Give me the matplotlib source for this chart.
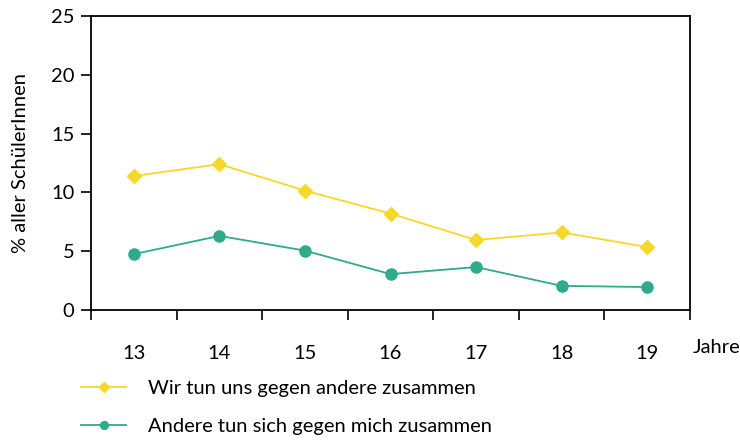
import numpy as np
import matplotlib.pyplot as plt

plt.rcParams['font.family'] = ['Lato', 'DejaVu Sans']

years = ['13', '14', '15', '16', '17', '18', '19']
wir_tun = [11.4, 12.4, 10.15, 8.2, 5.95, 6.6, 5.35]
andere_tun = [4.75, 6.3, 5.05, 3.05, 3.65, 2.05, 1.95]
labels = ['Wir tun uns gegen andere zusammen', 'Andere tun sich gegen mich zusammen']

yellow = '#F5D82A'
green = '#2FAA8B'

fig = plt.figure(figsize=(7.4, 4.4), dpi=100)
ax = fig.add_axes([0.123, 0.2955, 0.8095, 0.668])

x = np.arange(len(years))
ax.plot(x, wir_tun, color=yellow, lw=1.3, marker='D', ms=7, label=labels[0])
ax.plot(x, andere_tun, color=green, lw=1.3, marker='o', ms=8, label=labels[1])

ax.set_xlim(-0.5, len(years) - 0.5)
ax.set_ylim(0, 25)
ax.set_yticks([0, 5, 10, 15, 20, 25])
ax.set_xticks(x)
ax.set_xticklabels(years)
ax.set_xticks(np.arange(len(years) + 1) - 0.5, minor=True)
ax.tick_params(axis='x', which='major', length=0, pad=25, labelsize=14.5)
ax.tick_params(axis='x', which='minor', length=7, width=1.2, direction='out')
ax.tick_params(axis='y', length=7, width=1.2, labelsize=14.5, pad=5)
for s in ax.spines.values():
    s.set_linewidth(1.3)
ax.set_ylabel('% aller SchülerInnen', fontsize=14.5, labelpad=16)

fig.text(693 / 740, 1 - 347 / 440, 'Jahre', fontsize=14.5, va='center', ha='left')

fig.legend(loc='upper left', bbox_to_anchor=(0.11, 0.137), frameon=False,
           fontsize=14.5, handlelength=2.2, handletextpad=1.1, labelspacing=1.05,
           borderaxespad=0, borderpad=0, markerscale=0.7)

fig.savefig('out.png', dpi=100)
